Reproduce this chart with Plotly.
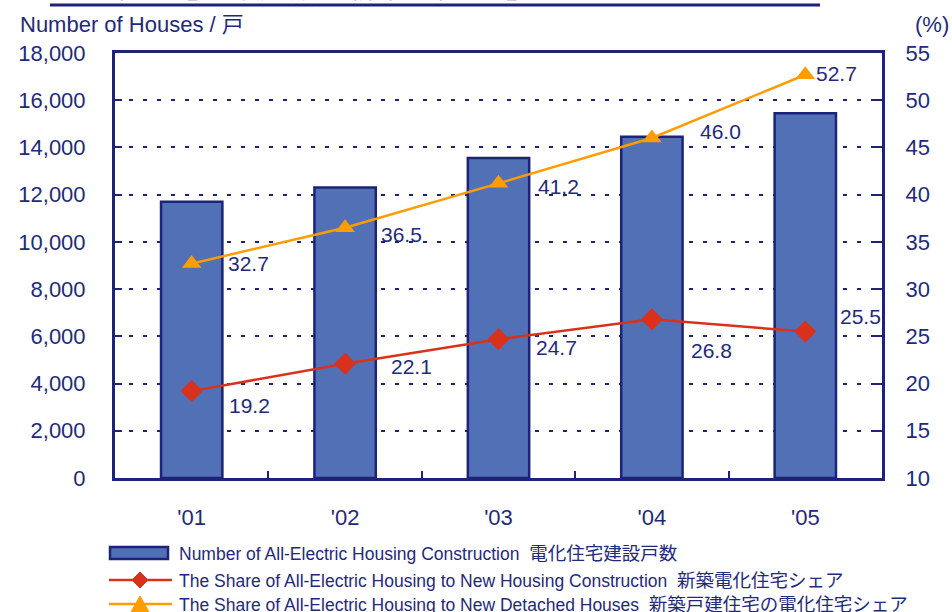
import plotly.graph_objects as go

# ---- data ----
years = ["'01", "'02", "'03", "'04", "'05"]
houses = [11700, 12300, 13550, 14450, 15450]
share_new_housing = [19.2, 22.1, 24.7, 26.8, 25.5]
share_detached = [32.7, 36.5, 41.2, 46.0, 52.7]
labels_new_housing = ["19.2", "22.1", "24.7", "26.8", "25.5"]
labels_detached = ["32.7", "36.5", "41,2", "46.0", "52.7"]

legend_en = [
    "Number of All-Electric Housing Construction",
    "The Share of All-Electric Housing to New Housing Construction",
    "The Share of All-Electric Housing to New Detached Houses",
]
legend_ja = ["電化住宅建設戸数", "新築電化住宅シェア", "新築戸建住宅の電化住宅シェア"]
title_text = "電化住宅建設戸数と新築電化住宅シェア"
left_title = "Number of Houses / 戸"
right_title = "(%)"

# ---- style ----
W, H = 952, 612
L, R, T, B = 115, 882, 53, 478
NAVY = "#1c2378"
TXT = "#1f2a7c"
BARC = "#5270b6"
RED = "#d8321c"
ORANGE = "#ff9c00"
FONT = "Liberation Sans, Arial, Noto Sans CJK JP, sans-serif"

# label offsets (pixels)
off_red = [(58, -14), (66, -3), (58, -8), (60, -31), (55, 15)]
off_orange = [(57, 0), (56, -7), (60, -3), (69, 7), (31, 1)]


def px(x):
    return (x - L) / (R - L)


def py(y):
    return (B - y) / (B - T)


fig = go.Figure()
fig.add_trace(go.Bar(
    x=years, y=houses, width=0.4,
    marker=dict(color=BARC, line=dict(color=NAVY, width=2.5)),
    showlegend=False, yaxis="y",
))
fig.add_trace(go.Scatter(
    x=years, y=share_new_housing, yaxis="y2", mode="lines+markers",
    line=dict(color=RED, width=2.5),
    marker=dict(symbol="diamond", size=17, color=RED),
    showlegend=False, cliponaxis=False,
))
fig.add_trace(go.Scatter(
    x=years, y=share_detached, yaxis="y2", mode="lines+markers",
    line=dict(color=ORANGE, width=2.5),
    marker=dict(symbol="triangle-up", size=17, color=ORANGE),
    showlegend=False, cliponaxis=False,
))

annotations = []
for xv, yv, t, (dx, dy) in zip(years, share_new_housing, labels_new_housing, off_red):
    annotations.append(dict(x=xv, y=yv, xref="x", yref="y2", text=t, showarrow=False,
                            xshift=dx, yshift=dy, font=dict(size=21, color=TXT, family=FONT)))
for xv, yv, t, (dx, dy) in zip(years, share_detached, labels_detached, off_orange):
    annotations.append(dict(x=xv, y=yv, xref="x", yref="y2", text=t, showarrow=False,
                            xshift=dx, yshift=dy, font=dict(size=21, color=TXT, family=FONT)))

# axis titles
annotations.append(dict(x=px(18), y=py(24), xref="paper", yref="paper", text=left_title,
                        showarrow=False, xanchor="left", yanchor="middle",
                        font=dict(size=22, color=TXT, family=FONT)))
annotations.append(dict(x=px(951), y=py(24), xref="paper", yref="paper", text=right_title,
                        showarrow=False, xanchor="right", yanchor="middle",
                        font=dict(size=22, color=TXT, family=FONT)))
# clipped title at top
annotations.append(dict(x=px(85), y=py(7), xref="paper", yref="paper", text=title_text,
                        showarrow=False, xanchor="left", yanchor="bottom", borderpad=0,
                        font=dict(size=29, color=TXT, family="Noto Sans CJK JP")))

# legend texts
leg_y = [553, 580, 604]
for en, ja, yy in zip(legend_en, legend_ja, leg_y):
    t = f"{en}  <span style='font-size:18.5px'>{ja}</span>"
    annotations.append(dict(x=px(177), y=py(yy), xref="paper", yref="paper", text=t,
                            showarrow=False, xanchor="left", yanchor="middle",
                            font=dict(size=17.5, color=TXT, family=FONT)))

shapes = [
    # title underline
    dict(type="line", xref="paper", yref="paper", x0=px(50), x1=px(820), y0=py(5), y1=py(5),
         line=dict(color=NAVY, width=3)),
    # legend: bar
    dict(type="rect", xref="paper", yref="paper", x0=px(110), x1=px(168), y0=py(559), y1=py(547),
         fillcolor=BARC, line=dict(color=NAVY, width=2.5)),
    # legend: red line + diamond
    dict(type="line", xref="paper", yref="paper", x0=px(109), x1=px(172), y0=py(580), y1=py(580),
         line=dict(color=RED, width=2.5)),
    dict(type="path", xref="paper", yref="paper",
         path=f"M {px(132)},{py(580)} L {px(140)},{py(572)} L {px(148)},{py(580)} L {px(140)},{py(588)} Z",
         fillcolor=RED, line=dict(color=RED, width=1)),
    # legend: orange line + triangle
    dict(type="line", xref="paper", yref="paper", x0=px(109), x1=px(172), y0=py(604), y1=py(604),
         line=dict(color=ORANGE, width=2.5)),
    dict(type="path", xref="paper", yref="paper",
         path=f"M {px(131)},{py(612)} L {px(140)},{py(596)} L {px(149)},{py(612)} Z",
         fillcolor=ORANGE, line=dict(color=ORANGE, width=1)),
]

fig.update_layout(
    width=W, height=H,
    margin=dict(l=L, r=W - R, t=T, b=H - B, pad=0),
    paper_bgcolor="white", plot_bgcolor="white",
    font=dict(family=FONT, color=TXT),
    showlegend=False,
    annotations=annotations,
    shapes=shapes,
    xaxis=dict(
        type="category", tickson="boundaries", ticks="inside", ticklen=7, tickwidth=2,
        tickcolor=NAVY, showline=True, linecolor=NAVY, linewidth=3, mirror=True,
        showgrid=False, tickfont=dict(size=22, color=TXT), ticklabelstandoff=18,
        range=[-0.5, 4.5],
    ),
    yaxis=dict(
        range=[0, 18000], dtick=2000, tickformat=",", ticks="inside", ticklen=7, tickwidth=2,
        tickcolor=NAVY, showline=True, linecolor=NAVY, linewidth=3, mirror=True,
        showgrid=True, gridcolor=NAVY, gridwidth=2, griddash="4px,10px",
        zeroline=False, tickfont=dict(size=22, color=TXT), ticklabelstandoff=22,
    ),
    yaxis2=dict(
        overlaying="y", side="right", range=[10, 55], dtick=5, ticks="inside", ticklen=7,
        tickwidth=2, tickcolor=NAVY, showline=True, linecolor=NAVY, linewidth=3,
        showgrid=False, zeroline=False, tickfont=dict(size=22, color=TXT), ticklabelstandoff=16,
    ),
    bargap=0.6,
)

fig.write_html(
    "out.html",
    config={"displayModeBar": False},
    post_script="document.body.style.margin='0px';document.body.style.overflow='hidden';",
)
